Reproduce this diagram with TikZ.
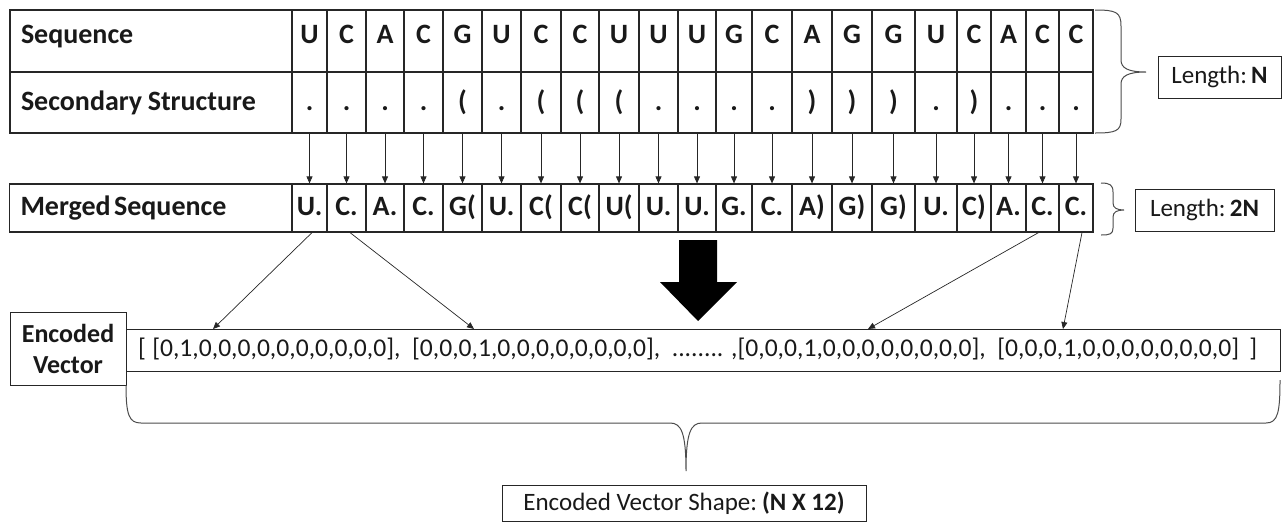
\documentclass[tikz,border=0pt]{standalone}
\usepackage{fontspec}
\setmainfont{Carlito}
\usetikzlibrary{arrows.meta}
\def\opn{(}
\def\cls{)}
\begin{document}
\begin{tikzpicture}[x=1pt,y=-1pt,
  every node/.style={text=black!90},
  cell/.style={draw=black!85, line width=1.2pt, inner sep=0pt, font=\fontsize{28}{30}\selectfont\bfseries},
  rowa/.style={text height=18pt, text depth=14pt, minimum height=62pt},
  rowb/.style={text height=18pt, text depth=3pt, minimum height=61pt},
  rowc/.style={text height=18pt, text depth=4pt, minimum height=48pt},
  lab/.style={cell, minimum width=282pt, inner xsep=11pt, text width=260pt, align=left},
  box/.style={draw=black!85, line width=0.9pt, inner sep=0pt, font=\fontsize{25}{28}\selectfont},
  arr/.style={-{Triangle[length=7pt,width=6pt]}, line width=0.7pt, draw=black!85},
  brc/.style={draw=black!70, line width=1pt},
]
\useasboundingbox (0,0) rectangle (1288,523);

% label cells
\node[lab, rowa] (seqlab) at (151,41) {Sequence};
\node[lab, rowb] (sslab) at (151,102.5) {Secondary\hspace{0.2em}Structure};
\node[lab, rowc] (mslab) at (150.5,208) {Merged\hspace{0.12em}Sequence};

% sequence / structure / merged cells
\foreach \i/\a/\b/\s/\t/\m in {
  1/292/327/U/./U., 2/327/366/C/./C., 3/366/404/A/./A., 4/404/443/C/./C.,
  5/443/482/G/\opn/G\opn, 6/482/521/U/./U., 7/521/561/C/\opn/C\opn, 8/561/599/C/\opn/C\opn,
  9/599/639/U/\opn/U\opn, 10/639/678/U/./U., 11/678/716/U/./U., 12/716/752/G/./G.,
  13/752/792/C/./C., 14/792/832/A/\cls/A\cls, 15/832/872/G/\cls/G\cls, 16/872/915/G/\cls/G\cls,
  17/915/957/U/./U., 18/957/991/C/\cls/C\cls, 19/991/1026/A/./A., 20/1026/1059/C/./C.,
  21/1059/1093/C/./C.}{
  \node[cell, rowa, minimum width={(\b-\a)*1pt}] (s\i) at ({(\a+\b)/2},41) {\s};
  \node[cell, rowb, minimum width={(\b-\a)*1pt}] (t\i) at ({(\a+\b)/2},102.5) {\t};
  \node[cell, rowc, minimum width={(\b-\a)*1pt}] (m\i) at ({(\a+\b)/2},208) {\m};
  \draw[arr] (t\i.south) -- (m\i.north);
}

% length boxes
\node[box, minimum width=123pt, minimum height=42pt] (lenN) at (1219.5,77) {Length:\,\textbf{N}};
\node[box, minimum width=139pt, minimum height=42pt] (len2N) at (1204.5,210) {Length:\,\textbf{2N}};

% braces
\draw[brc] (1095,10) .. controls (1116,10) and (1121,12) .. (1121,26) -- (1121,60)
  .. controls (1121,68) and (1128,72) .. (1146,72)
  .. controls (1128,72) and (1121,76) .. (1121,84) -- (1121,119)
  .. controls (1121,131) and (1116,133) .. (1095,133);
\draw[brc] (1101,183) .. controls (1110,183) and (1113,185) .. (1113,192) -- (1113,203)
  .. controls (1113,208) and (1117,210) .. (1124,210)
  .. controls (1117,210) and (1113,212) .. (1113,217) -- (1113,228)
  .. controls (1113,234) and (1110,235) .. (1101,235);

% encoded vector
\node[box, font=\fontsize{26}{31}\selectfont\bfseries, align=center, minimum width=116pt, minimum height=73pt] (enclab) at (68,348.5) {Encoded\\Vector};
\node[box, font=\fontsize{25.6}{30}\selectfont, minimum width=1154pt, minimum height=42pt, inner xsep=12pt, text width=1130pt, align=left, text height=18pt, text depth=5pt] (vec) at (703,350)
  {[\hspace{0.25em}[0,1,0,0,0,0,0,0,0,0,0,0],\hspace{0.45em}[0,0,0,1,0,0,0,0,0,0,0,0],\hspace{0.45em}........\hspace{0.3em},[0,0,0,1,0,0,0,0,0,0,0,0],\hspace{0.45em}[0,0,0,1,0,0,0,0,0,0,0,0]\hspace{0.4em}]};

\coordinate (e1) at (213,329);
\coordinate (e2) at (474,329);
\coordinate (e3) at (868,329);
\coordinate (e4) at (1063,329);
\draw[arr] ([xshift=2.5pt]m1.south) -- (e1);
\draw[arr] ([xshift=3.5pt]m2.south) -- (e2);
\draw[arr] ([xshift=-4pt]m20.south) -- (e3);
\draw[arr] ([xshift=6pt]m21.south) -- (e4);

% big arrow
\fill[black] (679,240) -- (717,240) -- (717,282) -- (737,282) -- (698,321) -- (660,282) -- (679,282) -- cycle;

% bottom brace
\draw[brc] (126,385) .. controls (126,415) and (129,423) .. (141,423) -- (670,423)
  .. controls (681,423) and (686,432) .. (686,471)
  .. controls (686,432) and (691,423) .. (702,423) -- (1266,423)
  .. controls (1278,423) and (1280,412) .. (1280,380);

\node[box, minimum width=364pt, minimum height=36pt] (shape) at (684,503) {Encoded Vector Shape:\hspace{0.2em}\textbf{(N X 12)}};
\end{tikzpicture}
\end{document}
